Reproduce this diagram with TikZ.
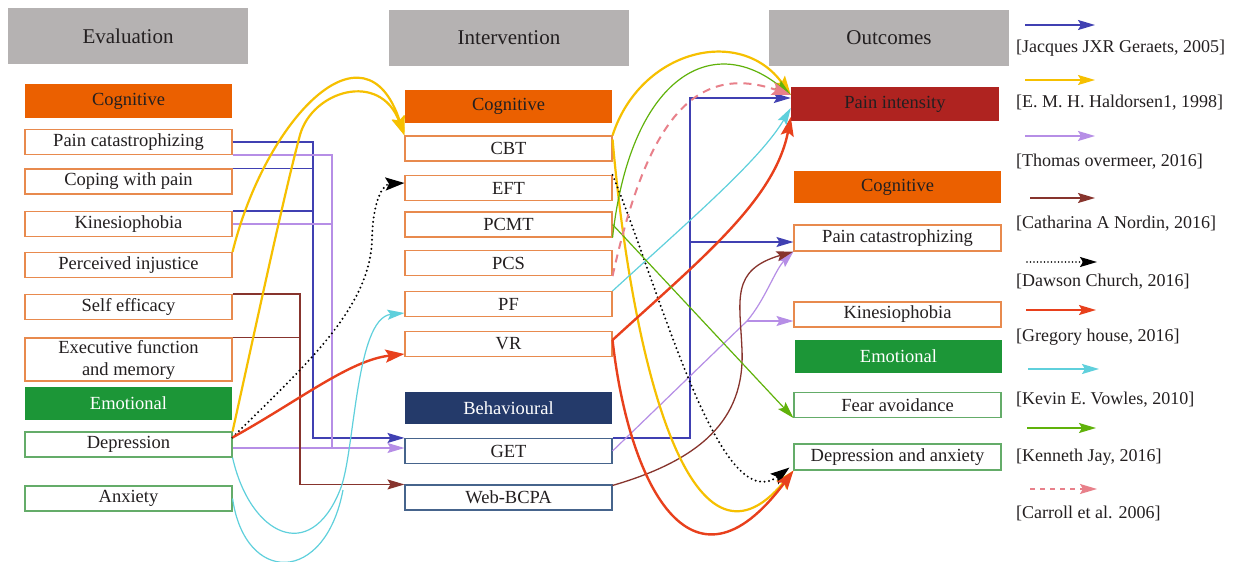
\documentclass[tikz,border=0pt]{standalone}
\usepackage{fontspec}
\setmainfont{Liberation Serif}
\usetikzlibrary{arrows.meta}
\definecolor{hdrgray}{RGB}{181,178,178}
\definecolor{cogor}{RGB}{235,96,0}
\definecolor{orline}{RGB}{232,138,78}
\definecolor{emogr}{RGB}{28,150,55}
\definecolor{grline}{RGB}{100,172,105}
\definecolor{navy}{RGB}{36,58,106}
\definecolor{navline}{RGB}{70,100,140}
\definecolor{pinred}{RGB}{175,35,32}
\definecolor{txt}{RGB}{35,31,32}
\definecolor{cJ}{RGB}{64,64,178}
\definecolor{cH}{RGB}{246,192,0}
\definecolor{cT}{RGB}{182,142,230}
\definecolor{cC}{RGB}{135,52,45}
\definecolor{cG}{RGB}{232,64,28}
\definecolor{cK}{RGB}{95,208,220}
\definecolor{cN}{RGB}{96,178,10}
\definecolor{cP}{RGB}{232,128,138}
\tikzset{
  hdr/.style={fill=hdrgray, minimum width=240pt, minimum height=56pt, inner sep=0pt, text=txt, font=\fontsize{21}{24}\selectfont},
  catbox/.style={minimum width=207pt, minimum height=33pt, inner sep=0pt, font=\fontsize{18.5}{22}\selectfont},
  bx/.style={draw, fill=white, line width=1.1pt, minimum width=207pt, minimum height=25pt, inner sep=0pt, text=txt, font=\fontsize{18.5}{22}\selectfont, align=center},
  obx/.style={bx, draw=orline},
  gbx/.style={bx, draw=grline},
  nbx/.style={bx, draw=navline},
  tip/.style={-{Stealth[length=17pt,width=10pt,inset=3pt]}},
  btip/.style={-{Stealth[length=19pt,width=13pt,inset=3.5pt]}},
  jb/.style={draw=cJ, line width=1.4pt, color=cJ},
  yh/.style={draw=cH, line width=2.2pt, color=cH},
  tp/.style={draw=cT, line width=1.2pt, color=cT},
  cb/.style={draw=cC, line width=1.3pt, color=cC},
  dc/.style={draw=black, line width=2.2pt, dash pattern=on 0pt off 4.5pt, line cap=round},
  gh/.style={draw=cG, line width=2.4pt, color=cG},
  kv/.style={draw=cK, line width=1.2pt, color=cK},
  kj/.style={draw=cN, line width=1.2pt, color=cN},
  ca/.style={draw=cP, line width=2pt, color=cP, dash pattern=on 8pt off 6pt},
  leg/.style={anchor=west, inner sep=0pt, text=txt, font=\fontsize{18}{20}\selectfont}
}
\begin{document}
\begin{tikzpicture}[x=1pt,y=-1pt]
\useasboundingbox[fill=white] (0,0) rectangle (1235,562);
% headers
\node[hdr] (hEval) at (128,36) {Evaluation};
\node[hdr] (hInt) at (509,38) {Intervention};
\node[hdr] (hOut) at (889,38) {Outcomes};
% left column
\node[catbox, fill=cogor, text=txt, minimum height=34pt] (lcog) at (128.5,101) {Cognitive};
\node[obx] (lpc) at (128.5,142) {Pain catastrophizing};
\node[obx] (lcop) at (128.5,181.5) {Coping with pain};
\node[obx] (lkin) at (128.5,224) {Kinesiophobia};
\node[obx] (lpi) at (128.5,265) {Perceived injustice};
\node[obx] (lse) at (128.5,307) {Self efficacy};
\node[obx, minimum height=43pt] (lexe) at (128.5,359.5) {Executive function\\and memory};
\node[catbox, fill=emogr, text=white] (lemo) at (128.5,403.5) {Emotional};
\node[gbx] (ldep) at (128.5,444.5) {Depression};
\node[gbx] (lanx) at (128.5,498.5) {Anxiety};
% middle column
\node[catbox, fill=cogor, text=txt] (mcog) at (508.5,106.5) {Cognitive};
\node[obx] (cbt) at (508.5,148.5) {CBT};
\node[obx] (eft) at (508.5,188) {EFT};
\node[obx] (pcmt) at (508.5,224.5) {PCMT};
\node[obx] (pcs) at (508.5,263) {PCS};
\node[obx] (pf) at (508.5,304) {PF};
\node[obx] (vr) at (508.5,344) {VR};
\node[catbox, fill=navy, text=white, minimum height=32pt] (mbeh) at (508.5,408) {Behavioural};
\node[nbx] (get) at (508.5,451) {GET};
\node[nbx] (web) at (508.5,497.5) {Web-BCPA};
% right column
\node[catbox, fill=pinred, text=txt, minimum width=208pt, minimum height=34pt] (pin) at (895,104) {Pain intensity};
\node[catbox, fill=cogor, text=txt, minimum height=32pt] (rcog) at (897.5,187) {Cognitive};
\node[obx, minimum height=26pt] (rpc) at (897.5,238) {Pain catastrophizing};
\node[obx] (rkin) at (897.5,314.5) {Kinesiophobia};
\node[catbox, fill=emogr, text=white] (remo) at (898.5,356.5) {Emotional};
\node[gbx] (rfa) at (897.5,405) {Fear avoidance};
\node[gbx, minimum height=26pt] (rda) at (897.5,457) {Depression and anxiety};
% elbow coordinates
\coordinate (bv) at (313,0);
\coordinate (pv) at (332,0);
\coordinate (brv) at (300,0);
\coordinate (rbv) at (690,0);
\coordinate (pj) at (747,321);
% ---- Jacques (blue)
\draw[jb] (lcop.north east) -- (lcop.north east -| bv);
\draw[jb] (lkin.north east) -- (lkin.north east -| bv);
\draw[jb,tip] (lpc.east) -- (lpc.east -| bv) -- (get.north west -| bv) -- (get.north west);
\draw[jb,tip] (get.north east) -- (get.north east -| rbv) -- ([yshift=6pt]pin.west -| rbv) -- ([yshift=6pt]pin.west);
\draw[jb,tip] ([yshift=-4pt]rpc.west -| rbv) -- ([yshift=-4pt]rpc.west);
% ---- Thomas (purple)
\draw[tp] (lkin.east) -- (lkin.east -| pv);
\draw[tp] (lpc.south east) -- (lpc.south east -| pv) -- ([yshift=-3.5pt]ldep.east -| pv);
\draw[tp,tip] ([yshift=-3.5pt]ldep.east) -- ([yshift=-3.5pt]ldep.east -| get.west);
\draw[tp] (get.east) -- (pj);
\draw[tp,tip] (pj) -- (pj -| rkin.west);
\draw[tp,tip] (pj) .. controls (765,300) and (775,270) .. (rpc.south west);
% ---- Catharina (brown)
\draw[cb] (lexe.north east) -- (lexe.north east -| brv);
\draw[cb,tip] (lse.north east) -- (lse.north east -| brv) -- (web.north west -| brv) -- (web.north west);
\draw[cb,tip] ([yshift=-1pt]web.north east) .. controls (700,460) and (745,420) .. (742,350) .. controls (740,300) and (730,270) .. (rpc.south west);
% ---- Haldorsen (yellow)
\draw[yh,btip] (lpi.north east) .. controls (265,120) and (365,15) .. (cbt.north west);
\draw[yh,btip] (ldep.north east) .. controls (255,330) and (285,190) .. (300,135) .. controls (312,91) and (380,70) .. (cbt.north west);
\draw[yh,btip] (cbt.north east) .. controls (640,50) and (740,25) .. ([yshift=9pt]pin.west);
\draw[yh,btip] ([yshift=-4pt]cbt.north east) .. controls (632,360) and (690,595) .. (rda.south west);
% ---- Dawson (black dotted)
\draw[dc,btip] ([yshift=-6pt]ldep.north east) .. controls (300,370) and (370,310) .. (372,240) .. controls (373,195) and (385,184) .. ([yshift=5pt]eft.west);
\draw[dc,btip] (eft.north east) .. controls (660,290) and (720,520) .. ([yshift=3pt,xshift=-4pt]rda.south west);
% ---- Gregory (red)
\draw[gh,btip] ([yshift=-6pt]ldep.north east) .. controls (300,400) and (350,360) .. ([yshift=-10pt]vr.west);
\draw[gh,btip] ([yshift=4pt]vr.east) .. controls (700,260) and (775,200) .. ([yshift=-13pt]pin.west);
\draw[gh,btip] ([yshift=4pt]vr.east) .. controls (628,480) and (690,610) .. (rda.south west);
% ---- Kevin (cyan)
\draw[kv,tip] (ldep.south east) .. controls (250,535) and (310,565) .. (340,490) .. controls (355,455) and (355,318) .. ([yshift=-9pt]pf.west);
\draw[kv] (lanx.east) .. controls (245,585) and (325,585) .. (343,490);
\draw[kv,tip] (pf.north east) .. controls (690,220) and (760,160) .. ([yshift=-4pt]pin.west);
% ---- Kenneth (green)
\draw[kj,tip] (pcmt.south east) .. controls (630,80) and (710,30) .. ([yshift=9pt]pin.west);
\draw[kj,tip] (pcmt.east) -- (rfa.south west);
% ---- Carroll (pink dashed)
\draw[ca,btip] (pcs.south east) .. controls (645,130) and (690,60) .. ([yshift=9pt]pin.west);
% ---- legend
\coordinate (a1) at (1025,25);  \coordinate (b1) at (1095,25);
\coordinate (a2) at (1025,80);  \coordinate (b2) at (1095,80);
\coordinate (a3) at (1025,136); \coordinate (b3) at (1095,136);
\coordinate (a4) at (1030,198); \coordinate (b4) at (1095,198);
\coordinate (a5) at (1027,262); \coordinate (b5) at (1097,262);
\coordinate (a6) at (1026,310); \coordinate (b6) at (1096,310);
\coordinate (a7) at (1028,369); \coordinate (b7) at (1099,369);
\coordinate (a8) at (1027,428); \coordinate (b8) at (1096,428);
\coordinate (a9) at (1030,489); \coordinate (b9) at (1097,489);
\draw[jb,line width=1.6pt,tip] (a1) -- (b1);
\draw[yh,line width=1.6pt,tip] (a2) -- (b2);
\draw[tp,line width=1.6pt,tip] (a3) -- (b3);
\draw[cb,line width=1.6pt,tip] (a4) -- (b4);
\draw[dc,line width=1.6pt,dash pattern=on 0pt off 3.5pt,tip] (a5) -- (b5);
\draw[gh,line width=1.6pt,tip] (a6) -- (b6);
\draw[kv,line width=1.6pt,tip] (a7) -- (b7);
\draw[kj,line width=1.6pt,tip] (a8) -- (b8);
\draw[ca,line width=1.4pt,dash pattern=on 5pt off 5pt,tip] (a9) -- (b9);
\node[leg] (l1) at (1016,48) {[Jacques JXR Geraets, 2005]};
\node[leg] (l2) at (1016,103) {[E. M. H. Haldorsen1, 1998]};
\node[leg] (l3) at (1016,162) {[Thomas overmeer, 2016]};
\node[leg] (l4) at (1016,224) {[Catharina A Nordin, 2016]};
\node[leg] (l5) at (1016,282) {[Dawson Church, 2016]};
\node[leg] (l6) at (1016,337) {[Gregory house, 2016]};
\node[leg] (l7) at (1016,400) {[Kevin E. Vowles, 2010]};
\node[leg] (l8) at (1016,457) {[Kenneth Jay, 2016]};
\node[leg] (l9) at (1016,513) {[Carroll et al. 2006]};
\end{tikzpicture}
\end{document}
